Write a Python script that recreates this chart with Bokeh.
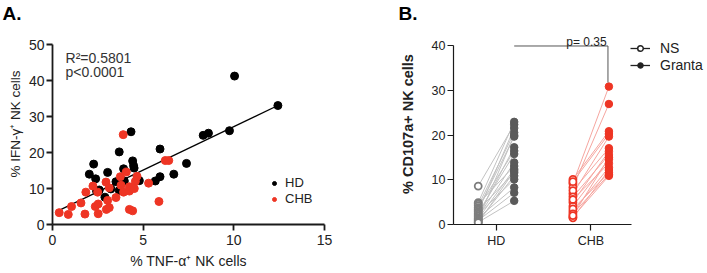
from bokeh.plotting import figure
from bokeh.models import Range1d, Legend, LegendItem, FixedTicker, Title
from bokeh.layouts import row
from bokeh.core.properties import value
from bokeh.embed import file_html
from bokeh.resources import INLINE

FONT = "Liberation Sans"

# ---------------- Panel A data ----------------
hd_x = [10.04, 12.43, 9.76, 8.31, 8.6, 4.33, 5.93, 3.68, 2.27, 7.39, 4.42, 4.47, 4.5, 3.92, 2.03,
        3.04, 6.69, 2.38, 5.93, 5.67, 4.79, 3.5, 3.78, 3.96, 2.58, 3.22, 3.68, 2.89, 2.43]
hd_y = [41.3, 33.1, 26.1, 24.8, 25.4, 25.8, 21.0, 20.2, 16.8, 17.0, 17.7, 16.4, 15.7, 15.5, 14.0,
        14.5, 14.0, 12.7, 13.3, 12.1, 12.2, 11.9, 12.5, 12.1, 9.6, 9.9, 9.5, 7.6, 9.3]
chb_x = [0.37, 0.87, 1.05, 1.57, 1.79, 1.84, 2.23, 2.49, 2.36, 2.52, 2.52, 2.95, 2.97, 3.13, 3.04,
         3.13, 3.5, 3.78, 3.74, 3.9, 4.07, 3.92, 4.24, 4.24, 4.24, 4.42, 4.57, 4.66, 4.51, 5.3,
         5.87, 6.22, 6.41]
chb_y = [3.3, 2.8, 5.0, 6.0, 2.9, 9.0, 10.7, 9.0, 5.0, 5.7, 3.0, 11.8, 4.2, 4.7, 6.7,
         10.2, 7.5, 10.9, 13.3, 25.0, 14.6, 9.0, 9.3, 10.5, 4.2, 3.8, 12.0, 13.4, 10.0, 11.5,
         6.4, 17.8, 17.8]
fit_slope = 2.42
fit_intercept = 3.03
fit_x = [0.42, 12.43]
fit_y = [fit_intercept + fit_slope * v for v in fit_x]
stats_text = ["R\u00b2=0.5801", "p<0.0001"]
a_xticks = [0, 5, 10, 15]
a_yticks = [0, 10, 20, 30, 40, 50]

# ---------------- Panel B data ----------------
groups = ["HD", "CHB"]
group_pos = [1, 2]
cond_offset = {"NS": -0.19, "Granta": 0.19}
hd_ns = [8.6, 4.9, 4.6, 4.2, 3.8, 3.5, 3.2, 2.9, 2.6, 2.3, 2.0, 1.8, 1.5, 1.3, 1.1, 0.9, 0.7, 0.5, 0.4]
hd_granta = [22.4, 23.0, 13.1, 20.6, 16.5, 19.7, 11.6, 21.6, 15.8, 10.1, 17.3, 13.9, 8.3, 12.4,
             20.0, 7.1, 10.9, 5.3, 12.0]
chb_ns = [9.2, 8.3, 10.1, 9.6, 6.9, 7.6, 5.0, 6.2, 4.1, 5.6, 2.9, 3.5, 1.7, 2.4, 1.5, 2.0]
chb_granta = [30.9, 27.0, 20.9, 20.3, 19.7, 17.1, 16.4, 15.6, 14.6, 13.7, 12.8, 11.6, 10.9,
              11.2, 12.2, 15.0]
p_value_text = "p= 0.35"
bracket_y = 40
bracket_drop = 31.8
b_yticks = [0, 10, 20, 30, 40]

RED = "#ee3524"
TXT = "#222222"
H = 272
TOP = 23
BOTTOM = 48


def style(p):
    p.outline_line_color = None
    p.xgrid.visible = False
    p.ygrid.visible = False
    p.background_fill_color = "white"
    p.border_fill_color = "white"


def style_axis(ax, tick_size, width):
    ax.axis_line_width = width
    ax.axis_line_color = "#1a1a1a"
    ax.major_tick_line_width = width
    ax.major_tick_line_color = "#1a1a1a"
    ax.major_tick_out = 6
    ax.major_tick_in = 0
    ax.minor_tick_out = 0
    ax.minor_tick_in = 0
    ax.major_label_text_font = FONT
    ax.major_label_text_font_size = tick_size
    ax.major_label_text_color = TXT
    ax.major_label_standoff = 2
    ax.axis_label_text_font = FONT
    ax.axis_label_text_color = TXT
    ax.axis_label_text_font_style = "normal"


def panel_title(text, offset):
    return Title(text=text, align="left", offset=offset, standoff=0,
                 text_font=FONT, text_font_style="bold", text_font_size="19px",
                 text_color="black")


# ---------------- Panel A ----------------
pA = figure(width=353, height=H, x_range=Range1d(0, 15), y_range=Range1d(0, 55.93),
            output_backend="svg", toolbar_location=None,
            min_border_left=52, min_border_right=29, min_border_top=TOP, min_border_bottom=BOTTOM)
style(pA)
for ax in (pA.xaxis[0], pA.yaxis[0]):
    style_axis(ax, "14px", 1.8)
pA.xaxis.ticker = FixedTicker(ticks=a_xticks)
pA.yaxis.ticker = FixedTicker(ticks=a_yticks)
pA.yaxis.bounds = (0, 50)
pA.xaxis.axis_label = "% TNF-\u03b1\u207a NK cells"
pA.yaxis.axis_label = "% IFN-\u03b3\u207a NK cells"
pA.xaxis.axis_label_text_font_size = "14px"
pA.yaxis.axis_label_text_font_size = "13.5px"
pA.xaxis.major_label_standoff = 4
pA.xaxis.axis_label_standoff = 5
pA.yaxis.axis_label_standoff = 3

pA.line(fit_x, fit_y, line_color="black", line_width=1.3)
r_hd = pA.scatter(hd_x, hd_y, size=8, fill_color="black", line_color="black")
r_chb = pA.scatter(chb_x, chb_y, size=8, fill_color=RED, line_color=RED)
pA.text(x=[0.72, 0.72], y=[46.38, 42.43], text=stats_text, text_font=value(FONT),
        text_font_size="14px", text_color="#333333", text_baseline="alphabetic")

legA = Legend(items=[LegendItem(label="HD", renderers=[r_hd]),
                     LegendItem(label="CHB", renderers=[r_chb])],
              location=(217, 18), padding=0, margin=0, spacing=1,
              glyph_width=10, glyph_height=14, label_height=14, label_standoff=6,
              label_text_font=FONT, label_text_font_size="13px", label_text_color=TXT,
              border_line_color=None, background_fill_alpha=0)
pA.add_layout(legA)
pA.add_layout(panel_title("A.", -50), "above")

# ---------------- Panel B ----------------
pB = figure(width=353, height=H, x_range=Range1d(0.549, 3.2206), y_range=Range1d(0, 45.04),
            output_backend="svg", toolbar_location=None,
            min_border_left=100, min_border_right=0, min_border_top=TOP, min_border_bottom=BOTTOM)
style(pB)
for ax in (pB.xaxis[0], pB.yaxis[0]):
    style_axis(ax, "12.5px", 1.2)
pB.xaxis.ticker = FixedTicker(ticks=group_pos)
pB.xaxis.major_label_overrides = {g_pos: g for g_pos, g in zip(group_pos, groups)}
pB.xaxis.bounds = (0.549, 2.433)
pB.yaxis.bounds = (0, 40)
pB.yaxis.ticker = FixedTicker(ticks=b_yticks)
pB.xaxis.major_label_standoff = 3
pB.yaxis.axis_label = "% CD107a+ NK cells"
pB.yaxis.axis_label_text_font_style = "bold"
pB.yaxis.axis_label_text_font_size = "14.5px"
pB.yaxis.axis_label_standoff = 13

series = [
    (group_pos[0], hd_ns, hd_granta, "#c2c2c2", "#7d7d7d", "#5a5a5a"),
    (group_pos[1], chb_ns, chb_granta, "#f6a6a0", RED, RED),
]
for pos, ns, gr, lc, ns_col, gr_col in series:
    xns = pos + cond_offset["NS"]
    xgr = pos + cond_offset["Granta"]
    pB.multi_line(xs=[[xns, xgr] for _ in ns], ys=[[a, b] for a, b in zip(ns, gr)],
                  line_color=lc, line_width=1)
    pB.scatter([xgr] * len(gr), gr, size=7.5, fill_color=gr_col, line_color=gr_col)
    pB.scatter([xns] * len(ns), ns, size=7, fill_color="white", line_color=ns_col,
               line_width=1.8)

# bracket
bx0 = group_pos[0] + cond_offset["Granta"]
bx1 = group_pos[1] + cond_offset["Granta"] - 0.01
pB.line([bx0, bx1, bx1], [bracket_y, bracket_y, bracket_drop], line_color="#555555", line_width=1)
pB.text(x=[1.953], y=[40.8], text=[p_value_text], text_font=value(FONT), text_font_size="12px",
        text_color=TXT, text_align="center", text_baseline="alphabetic")

# legend B (renderers placed outside the visible range; only their legend glyphs show)
off = [-9.0, -8.0]
l_ns = pB.line(x=off, y=off, line_color="#222222", line_width=1.3)
d_ns = pB.scatter(x=off, y=off, size=8, fill_color="white", line_color="#222222", line_width=1.5)
l_gr = pB.line(x=off, y=off, line_color="#222222", line_width=1.3)
d_gr = pB.scatter(x=off, y=off, size=8, fill_color="#222222", line_color="#222222")
legB = Legend(items=[LegendItem(label="NS", renderers=[l_ns, d_ns]),
                     LegendItem(label="Granta", renderers=[l_gr, d_gr])],
              location=(177, 151), padding=0, margin=0, spacing=1,
              glyph_width=20, glyph_height=14, label_height=14, label_standoff=10,
              label_text_font=FONT, label_text_font_size="14px", label_text_color=TXT,
              border_line_color=None, background_fill_alpha=0)
pB.add_layout(legB)
pB.add_layout(panel_title("B.", -55), "above")

layout = row(pA, pB)
open("out.html", "w").write(file_html(layout, INLINE))
